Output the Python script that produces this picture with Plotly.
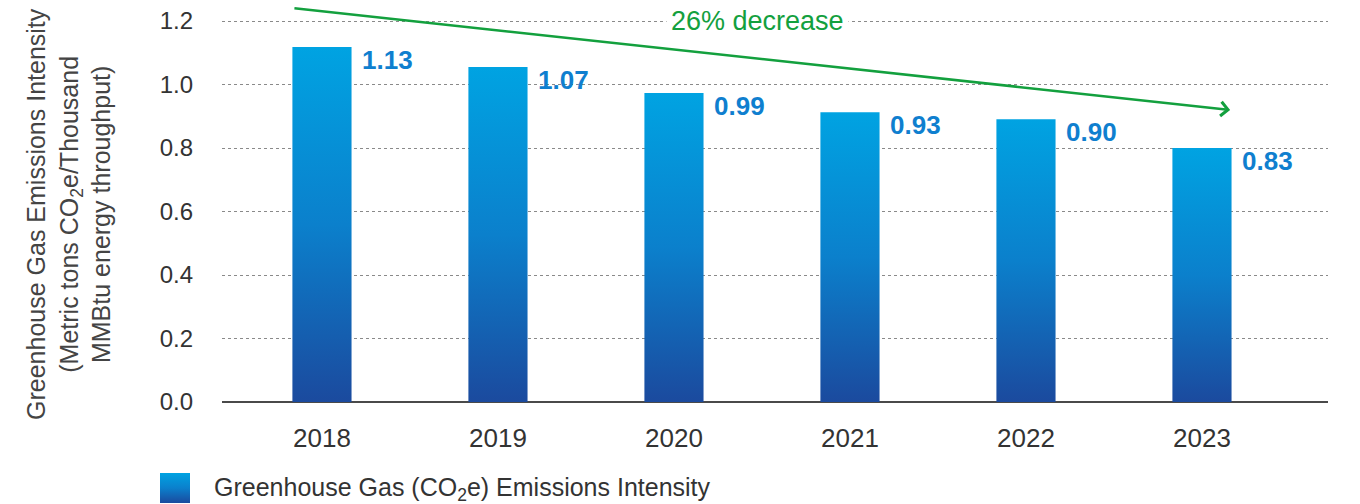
import plotly.graph_objects as go

# ---- data ----
years = ["2018", "2019", "2020", "2021", "2022", "2023"]
bar_heights = [1.118, 1.055, 0.973, 0.913, 0.891, 0.800]
bar_labels = ["1.13", "1.07", "0.99", "0.93", "0.90", "0.83"]
y_ticks = [0.0, 0.2, 0.4, 0.6, 0.8, 1.0, 1.2]
y_tick_text = ["0.0", "0.2", "0.4", "0.6", "0.8", "1.0", "1.2"]
trend_text = "26% decrease"
trend_from = (-0.165, 1.241)
trend_to = (5.16, 0.92)
legend_text = "Greenhouse Gas (CO<sub>2</sub>e) Emissions Intensity"
y_title = ("Greenhouse Gas Emissions Intensity<br>"
           "(Metric tons CO<sub>2</sub>e/Thousand<br>"
           "MMBtu energy throughput)")

# ---- style ----
W, H = 1360, 504
FONT = "Liberation Sans"
GRAD = [[0, "#1b4a9e"], [0.5, "#0b80cc"], [1, "#00a3e2"]]
LABEL_BLUE = "#0f7fcf"
GREEN = "#13a03e"
TEXT = "#333333"
HALF = 0.168

fig = go.Figure()

for i, (yr, h) in enumerate(zip(years, bar_heights)):
    fig.add_trace(go.Scatter(
        x=[i - HALF, i + HALF, i + HALF, i - HALF, i - HALF],
        y=[0, 0, h, h, 0],
        fill="toself", mode="lines", line=dict(width=0),
        fillgradient=dict(type="vertical", colorscale=GRAD),
        showlegend=False, hoverinfo="skip", xaxis="x", yaxis="y"))

# legend swatch on a pixel overlay axis
fig.add_trace(go.Scatter(
    x=[160, 190, 190, 160, 160], y=[503, 503, 473, 473, 503],
    fill="toself", mode="lines", line=dict(width=0),
    fillgradient=dict(type="vertical", colorscale=GRAD),
    showlegend=False, hoverinfo="skip", xaxis="x2", yaxis="y2"))

annotations = []
for i, (h, lab) in enumerate(zip(bar_heights, bar_labels)):
    annotations.append(dict(x=i + HALF, y=h, xref="x", yref="y", text=f"<b>{lab}</b>",
                            showarrow=False, xanchor="left", yanchor="top", xshift=8, yshift=4,
                            font=dict(family=FONT, size=26, color=LABEL_BLUE)))

annotations.append(dict(x=trend_to[0], y=trend_to[1], ax=trend_from[0], ay=trend_from[1],
                        xref="x", yref="y", axref="x", ayref="y", text="",
                        showarrow=True, arrowhead=4, arrowsize=1.1, arrowwidth=2.5,
                        arrowcolor=GREEN, standoff=0, startstandoff=0))
annotations.append(dict(x=2.477, y=1.2, xref="x", yref="y", text=trend_text, showarrow=False,
                        xanchor="center", yanchor="middle", bgcolor="white", borderpad=4,
                        font=dict(family=FONT, size=27, color=GREEN)))
annotations.append(dict(x=68 / W, y=1 - 214 / H, xref="paper", yref="paper", text=y_title,
                        showarrow=False, textangle=-90, xanchor="center", yanchor="middle",
                        align="center", font=dict(family=FONT, size=25, color="#444444")))
annotations.append(dict(x=212 / W, y=1 - 489 / H, xref="paper", yref="paper", text=legend_text,
                        showarrow=False, xanchor="left", yanchor="middle",
                        font=dict(family=FONT, size=25, color=TEXT)))

fig.update_layout(
    width=W, height=H, margin=dict(l=0, r=0, t=0, b=0),
    paper_bgcolor="white", plot_bgcolor="rgba(0,0,0,0)",
    showlegend=False,
    xaxis=dict(domain=[222 / W, 1328 / W], range=[-0.568, 5.716], automargin=False,
               tickvals=list(range(len(years))), ticktext=years,
               showgrid=False, zeroline=False, showline=False, ticks="",
               ticklabelstandoff=18,
               tickfont=dict(family=FONT, size=26, color=TEXT), anchor="y"),
    yaxis=dict(domain=[1 - 402 / H, 1 - 2 / H], range=[0, 1.26], automargin=False,
               tickvals=y_ticks, ticktext=y_tick_text,
               showgrid=True, gridcolor="#8a8a8a", griddash="dot", gridwidth=1,
               zeroline=True, zerolinecolor="#4a4a4a", zerolinewidth=1.5,
               showline=False, ticks="", ticklabelstandoff=28,
               tickfont=dict(family=FONT, size=24, color=TEXT), anchor="x"),
    xaxis2=dict(domain=[0, 1], range=[0, W], visible=False, anchor="y2", fixedrange=True,
                automargin=False),
    yaxis2=dict(domain=[0, 1], range=[H, 0], visible=False, anchor="x2", fixedrange=True,
                automargin=False),
    annotations=annotations,
)

fig.write_html("out.html")
